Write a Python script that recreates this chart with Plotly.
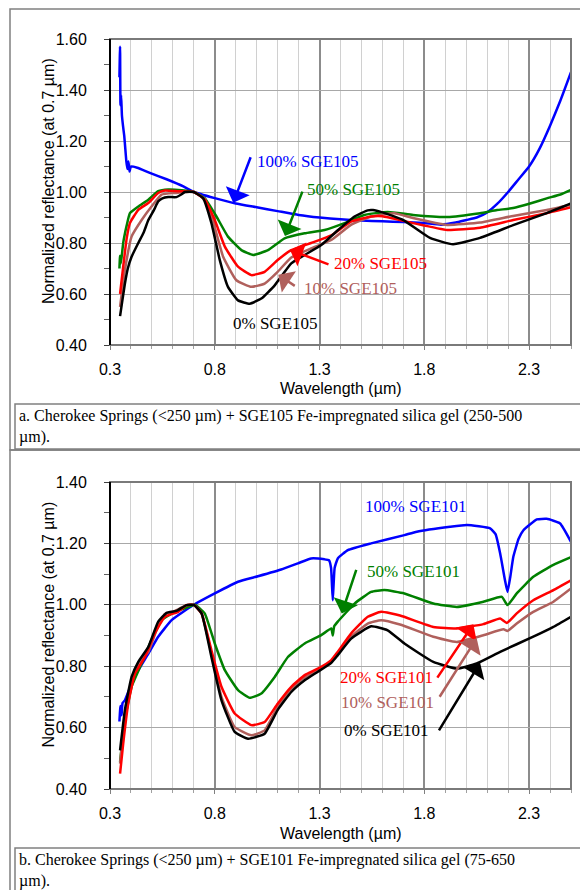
import plotly.graph_objects as go

# the page adds an 8 px body margin, so the figure is laid out in page pixels minus 8
OFF = 8
W, H = 588 - OFF, 890 - OFF

# ---- panel a: Cherokee Springs + SGE105 ----
a_wl_0 = [0.348, 0.36, 0.371, 0.385, 0.403, 0.435, 0.46, 0.483, 0.51, 0.53, 0.55, 0.578, 0.617, 0.64, 0.657,
          0.70, 0.744, 0.784, 0.824, 0.863, 0.911, 0.967, 1.022, 1.086, 1.165, 1.229, 1.308, 1.387, 1.467,
          1.53, 1.555, 1.60, 1.70, 1.827, 1.937, 2.066, 2.224, 2.384, 2.5]
a_r_0 = [0.513, 0.58, 0.64, 0.70, 0.746, 0.80, 0.84, 0.89, 0.93, 0.963, 0.975, 0.98, 0.98, 0.99, 1.0,
         1.0, 0.976, 0.878, 0.733, 0.628, 0.575, 0.562, 0.582, 0.634, 0.72, 0.753, 0.792, 0.85, 0.904,
         0.928, 0.929, 0.92, 0.89, 0.82, 0.795, 0.82, 0.87, 0.917, 0.955]

a_wl_10 = [0.348, 0.371, 0.403, 0.451, 0.498, 0.546, 0.61, 0.70, 0.752, 0.792, 0.84, 0.903, 0.975, 1.038,
           1.10, 1.165, 1.26, 1.356, 1.45, 1.546, 1.657, 1.746, 1.909, 2.066, 2.224, 2.384, 2.5]
a_r_10 = [0.549, 0.693, 0.825, 0.89, 0.943, 0.99, 0.996, 1.0, 0.972, 0.884, 0.746, 0.654, 0.628, 0.641,
          0.687, 0.743, 0.779, 0.812, 0.871, 0.904, 0.917, 0.898, 0.871, 0.88, 0.906, 0.929, 0.95]

a_wl_20 = [0.348, 0.363, 0.38, 0.395, 0.435, 0.483, 0.53, 0.562, 0.625, 0.70, 0.752, 0.80, 0.848, 0.911,
           0.975, 1.038, 1.10, 1.165, 1.26, 1.356, 1.45, 1.546, 1.60, 1.746, 1.909, 2.066, 2.224, 2.384, 2.5]
a_r_20 = [0.60, 0.707, 0.82, 0.878, 0.93, 0.957, 0.996, 1.006, 1.003, 1.0, 0.97, 0.89, 0.786, 0.707,
          0.674, 0.687, 0.733, 0.772, 0.80, 0.83, 0.884, 0.904, 0.905, 0.878, 0.851, 0.86, 0.89, 0.917, 0.94]

a_wl_50 = [0.345, 0.348, 0.352, 0.363, 0.38, 0.395, 0.435, 0.483, 0.53, 0.578, 0.643, 0.70, 0.752, 0.808,
           0.863, 0.927, 0.983, 1.054, 1.133, 1.229, 1.324, 1.419, 1.514, 1.625, 1.746, 1.909, 2.066,
           2.147, 2.224, 2.305, 2.384, 2.45, 2.5]
a_r_50 = [0.70, 0.75, 0.72, 0.80, 0.87, 0.917, 0.943, 0.97, 1.003, 1.01, 1.007, 1.0, 0.976, 0.904,
          0.825, 0.772, 0.753, 0.772, 0.818, 0.838, 0.851, 0.878, 0.91, 0.922, 0.91, 0.902, 0.917,
          0.929, 0.937, 0.955, 0.975, 0.99, 1.008]

a_wl_100 = [0.345, 0.348, 0.35, 0.353, 0.357, 0.362, 0.368, 0.373, 0.378, 0.383, 0.388, 0.393, 0.40, 0.43,
            0.49, 0.57, 0.65, 0.70, 0.80, 0.90, 1.0, 1.1, 1.2, 1.3, 1.4, 1.5, 1.6, 1.7, 1.8, 1.88, 1.95,
            2.0, 2.05, 2.1, 2.15, 2.2, 2.25, 2.3, 2.35, 2.4, 2.45, 2.5]
a_r_100 = [1.45, 1.57, 1.34, 1.38, 1.30, 1.26, 1.22, 1.17, 1.12, 1.09, 1.12, 1.08, 1.10, 1.095,
           1.075, 1.05, 1.022, 1.0, 0.976, 0.955, 0.94, 0.925, 0.91, 0.90, 0.893, 0.888, 0.885, 0.882,
           0.878, 0.872, 0.88, 0.89, 0.90, 0.92, 0.955, 1.0, 1.05, 1.10, 1.17, 1.26, 1.36, 1.47]

# ---- panel b: Cherokee Springs + SGE101 ----
b_wl_0 = [0.348, 0.371, 0.403, 0.435, 0.483, 0.53, 0.57, 0.617, 0.665, 0.70, 0.737, 0.784, 0.832, 0.895,
          0.959, 1.038, 1.10, 1.165, 1.229, 1.292, 1.356, 1.387, 1.451, 1.546, 1.625, 1.705, 1.843,
          1.955, 2.05, 2.162, 2.32, 2.416, 2.5]
b_r_0 = [0.526, 0.657, 0.765, 0.814, 0.863, 0.945, 0.974, 0.98, 0.999, 1.0, 0.972, 0.83, 0.689, 0.586,
         0.564, 0.58, 0.657, 0.716, 0.754, 0.782, 0.811, 0.836, 0.89, 0.93, 0.917, 0.874, 0.814,
         0.792, 0.809, 0.847, 0.896, 0.928, 0.961]

b_wl_10 = [0.348, 0.371, 0.403, 0.435, 0.483, 0.522, 0.562, 0.61, 0.665, 0.70, 0.737, 0.784, 0.832, 0.895,
           0.975, 1.038, 1.10, 1.165, 1.229, 1.292, 1.356, 1.387, 1.451, 1.53, 1.594, 1.684, 1.843,
           1.955, 2.082, 2.178, 2.197, 2.241, 2.32, 2.416, 2.5]
b_r_10 = [0.483, 0.635, 0.743, 0.809, 0.847, 0.917, 0.97, 0.98, 0.999, 1.0, 0.972, 0.841, 0.70, 0.602,
          0.575, 0.591, 0.667, 0.727, 0.763, 0.787, 0.817, 0.841, 0.896, 0.939, 0.95, 0.936, 0.896,
          0.879, 0.901, 0.92, 0.915, 0.939, 0.977, 1.01, 1.053]

b_wl_20 = [0.348, 0.363, 0.387, 0.419, 0.467, 0.514, 0.562, 0.625, 0.665, 0.70, 0.737, 0.784, 0.832, 0.895,
           0.975, 1.038, 1.10, 1.165, 1.229, 1.292, 1.356, 1.387, 1.451, 1.53, 1.594, 1.684, 1.843,
           1.955, 2.082, 2.162, 2.194, 2.241, 2.32, 2.416, 2.5]
b_r_20 = [0.45, 0.548, 0.678, 0.776, 0.83, 0.907, 0.961, 0.977, 0.999, 1.0, 0.972, 0.852, 0.733, 0.646,
          0.608, 0.618, 0.678, 0.733, 0.771, 0.792, 0.82, 0.847, 0.907, 0.961, 0.977, 0.965, 0.928,
          0.923, 0.937, 0.955, 0.941, 0.972, 1.015, 1.048, 1.08]

b_wl_50 = [0.348, 0.371, 0.403, 0.451, 0.498, 0.546, 0.61, 0.673, 0.706, 0.752, 0.80, 0.848, 0.911, 0.967,
           1.022, 1.086, 1.149, 1.229, 1.308, 1.356, 1.363, 1.37, 1.387, 1.467, 1.546, 1.609, 1.705,
           1.843, 1.955, 2.082, 2.17, 2.197, 2.241, 2.32, 2.416, 2.5]
b_r_50 = [0.488, 0.624, 0.733, 0.809, 0.885, 0.95, 0.977, 0.993, 1.0, 0.972, 0.874, 0.787, 0.722, 0.697,
          0.711, 0.765, 0.83, 0.874, 0.901, 0.923, 0.90, 0.93, 0.945, 1.004, 1.042, 1.048, 1.037,
          1.004, 0.993, 1.01, 1.026, 0.999, 1.037, 1.091, 1.13, 1.155]

b_wl_100 = [0.345, 0.35, 0.355, 0.36, 0.371, 0.403, 0.435, 0.483, 0.53, 0.594, 0.70, 0.80, 0.911, 1.006,
            1.117, 1.197, 1.26, 1.324, 1.345, 1.355, 1.363, 1.372, 1.387, 1.435, 1.546, 1.705, 1.764,
            1.923, 2.003, 2.114, 2.14, 2.162, 2.185, 2.197, 2.21, 2.225, 2.25, 2.273, 2.337, 2.384,
            2.448, 2.5]
b_r_100 = [0.62, 0.67, 0.64, 0.68, 0.689, 0.743, 0.787, 0.841, 0.896, 0.95, 1.0, 1.037, 1.075, 1.093,
           1.115, 1.135, 1.151, 1.148, 1.145, 1.12, 1.015, 1.12, 1.151, 1.178, 1.20, 1.227, 1.238,
           1.254, 1.26, 1.249, 1.23, 1.167, 1.08, 1.042, 1.09, 1.157, 1.215, 1.243, 1.278, 1.28,
           1.265, 1.205]

COLORS = {"0": "#000000", "10": "#b0605c", "20": "#ff0000", "50": "#008000", "100": "#0000ff"}
SANS = "Liberation Sans, Arial, sans-serif"
SERIF = "Liberation Serif, Times New Roman, serif"


def fx(px):
    """page x pixel -> paper fraction"""
    return (px - OFF) / W


def fy(py):
    """page y pixel -> paper fraction"""
    return 1 - (py - OFF) / H


panels = [
    dict(x="x", y="y", top=39, bottom=345, yr=[0.4, 1.6],
         series=[("100", a_wl_100, a_r_100), ("50", a_wl_50, a_r_50), ("10", a_wl_10, a_r_10),
                 ("20", a_wl_20, a_r_20), ("0", a_wl_0, a_r_0)]),
    dict(x="x2", y="y2", top=482, bottom=789, yr=[0.4, 1.4],
         series=[("100", b_wl_100, b_r_100), ("50", b_wl_50, b_r_50), ("10", b_wl_10, b_r_10),
                 ("20", b_wl_20, b_r_20), ("0", b_wl_0, b_r_0)]),
]

fig = go.Figure()
for p in panels:
    for key, wl, r in p["series"]:
        fig.add_trace(go.Scatter(x=wl, y=r, xaxis=p["x"], yaxis=p["y"], mode="lines",
                                 line=dict(color=COLORS[key], width=2.5, shape="spline", smoothing=0.4),
                                 showlegend=False, hoverinfo="skip"))


def x_axis(anchor):
    return dict(domain=[fx(110), fx(571)], range=[0.3, 2.5], anchor=anchor, automargin=False,
                tick0=0.3, dtick=0.5, tickformat=".1f", ticks="outside", ticklen=4,
                tickcolor="#808080", showgrid=True, gridcolor="#8c8c8c", gridwidth=1.5,
                minor=dict(tick0=0.3, dtick=0.1, showgrid=True, gridcolor="#d0d0d0", gridwidth=1,
                           ticks="outside", ticklen=3, tickcolor="#a0a0a0"),
                showline=False, zeroline=False, ticklabelstandoff=6,
                tickfont=dict(family=SANS, size=16, color="black"))


def y_axis(anchor, top, bottom, yr):
    return dict(domain=[fy(bottom), fy(top)], range=yr, anchor=anchor, automargin=False,
                dtick=0.2, tick0=0.4, tickformat=".2f", ticks="outside", ticklen=5,
                tickcolor="#404040", showgrid=True, gridcolor="#a8a8a8", gridwidth=1.2,
                minor=dict(dtick=0.1, tick0=0.4, ticks="outside", ticklen=5, tickcolor="#606060",
                           showgrid=False),
                showline=False, zeroline=False, ticklabelstandoff=14,
                tickfont=dict(family=SANS, size=16, color="black"))


shapes = []
for p in panels:
    xd, yd = p["x"] + " domain", p["y"] + " domain"
    shapes.append(dict(type="rect", xref=xd, yref=yd, x0=0, x1=1, y0=0, y1=1,
                       line=dict(color="#7a7a7a", width=2), layer="above"))
    shapes.append(dict(type="line", xref=xd, yref=yd, x0=0, x1=0, y0=0, y1=1,
                       line=dict(color="black", width=2), layer="above"))

# document frames and caption boxes (page pixels)
for x0, y0, x1, y1 in [(10, 9, 600, 450), (10, 450, 600, 900), (15, 404, 587, 449), (15, 848, 587, 900)]:
    shapes.append(dict(type="rect", xref="paper", yref="paper", x0=fx(x0), x1=fx(x1),
                       y0=fy(y0), y1=fy(y1), line=dict(color="#808080", width=1.5)))

annotations = []


def label(xref, yref, x, y, text, color):
    annotations.append(dict(xref=xref, yref=yref, x=x, y=y, text=text, showarrow=False,
                            xanchor="left", yanchor="middle",
                            font=dict(family=SERIF, size=17, color=color)))


def arrow(xref, yref, x, y, ax, ay, color):
    annotations.append(dict(xref=xref, yref=yref, x=x, y=y, ax=ax, ay=ay, text="", showarrow=True,
                            arrowhead=1, arrowsize=1.7, arrowwidth=2.5, arrowcolor=color))


# panel a labels and arrows
label("x", "y", 0.992, 1.119, "100% SGE105", COLORS["100"])
label("x", "y", 1.231, 1.008, "50% SGE105", COLORS["50"])
label("x", "y", 1.358, 0.72, "20% SGE105", COLORS["20"])
label("x", "y", 1.215, 0.622, "10% SGE105", COLORS["10"])
label("x", "y", 0.878, 0.485, "0% SGE105", COLORS["0"])
arrow("x", "y", 0.888, 0.958, 18, -47, COLORS["100"])
arrow("x", "y", 1.135, 0.827, 18, -46, COLORS["50"])
arrow("x", "y", 1.159, 0.773, 40, 15, COLORS["20"])
arrow("x", "y", 1.103, 0.675, 18, 12, COLORS["10"])

# panel b labels and arrows
label("x2", "y2", 1.506, 1.32, "100% SGE101", COLORS["100"])
label("x2", "y2", 1.517, 1.11, "50% SGE101", COLORS["50"])
label("x2", "y2", 1.39, 0.764, "20% SGE101", COLORS["20"])
label("x2", "y2", 1.395, 0.682, "10% SGE101", COLORS["10"])
label("x2", "y2", 1.406, 0.589, "0% SGE101", COLORS["0"])
arrow("x2", "y2", 1.406, 0.972, 15, -45, COLORS["50"])
arrow("x2", "y2", 2.034, 0.937, -37, 55, COLORS["20"])
arrow("x2", "y2", 2.050, 0.891, -38, 60, COLORS["10"])
arrow("x2", "y2", 2.066, 0.811, -42, 69, COLORS["0"])

# axis titles
for p in panels:
    mid = (p["top"] + p["bottom"]) / 2 - 11
    annotations.append(dict(xref="paper", yref="paper", x=fx(48), y=fy(mid), textangle=-90,
                            xanchor="center", yanchor="middle",
                            text="Normalized reflectance (at 0.7 µm)", showarrow=False,
                            font=dict(family=SANS, size=16, color="black")))
    annotations.append(dict(xref="paper", yref="paper", x=fx(341), y=fy(p["bottom"] + 44),
                            xanchor="center", yanchor="middle",
                            text="Wavelength (µm)", showarrow=False,
                            font=dict(family=SANS, size=16, color="black")))

# captions
for top, txt in [(405, "a. Cherokee Springs (&lt;250 µm) + SGE105 Fe-impregnated silica gel (250-500<br>µm)."),
                 (849, "b. Cherokee Springs (&lt;250 µm) + SGE101 Fe-impregnated silica gel (75-650<br>µm).")]:
    annotations.append(dict(xref="paper", yref="paper", x=fx(17), y=fy(top), text=txt,
                            showarrow=False, xanchor="left", yanchor="top", align="left",
                            font=dict(family=SERIF, size=16, color="black")))

fig.update_layout(
    width=W, height=H, margin=dict(l=0, r=0, t=0, b=0),
    paper_bgcolor="white", plot_bgcolor="white",
    xaxis=x_axis("y"), yaxis=y_axis("x", 39, 345, [0.4, 1.6]),
    xaxis2=x_axis("y2"), yaxis2=y_axis("x2", 482, 789, [0.4, 1.4]),
    shapes=shapes, annotations=annotations,
)

fig.write_html("out.html")
